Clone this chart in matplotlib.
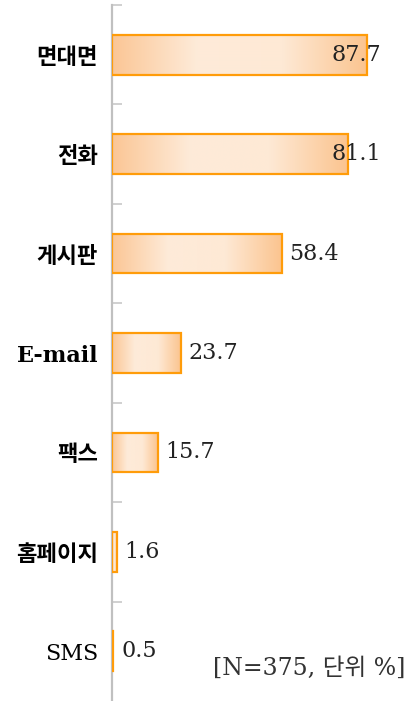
import matplotlib
matplotlib.use("Agg")
import matplotlib.pyplot as plt
import numpy as np
from matplotlib.colors import LinearSegmentedColormap

# data
categories = ["면대면", "전화", "게시판", "E-mail", "팩스", "홈페이지", "SMS"]
values = [87.7, 81.1, 58.4, 23.7, 15.7, 1.6, 0.5]
note = "[N=375, 단위 %]"

plt.rcParams['font.family'] = ['Noto Sans CJK KR', 'DejaVu Sans']
num_font = ['DejaVu Serif', 'Noto Sans CJK KR']

fig = plt.figure(figsize=(4.09, 7.01), dpi=100)
ax = fig.add_axes([112 / 409, 0.0, (381 - 112) / 409, 696 / 701])

XMAX = 92.5
y = np.arange(len(categories))
bars = ax.barh(y, values, height=0.4, color='none', edgecolor='#FF9C0A',
               linewidth=1.6, zorder=3)

# horizontal gradient: darker edges, light centre
cmap = LinearSegmentedColormap.from_list(
    'orange_grad', ['#FBC695', '#FEEBD9', '#FEE9D5', '#FBC48F'])
grad = np.linspace(0, 1, 256).reshape(1, -1)
for bar in bars:
    x0, y0 = bar.get_x(), bar.get_y()
    w, h = bar.get_width(), bar.get_height()
    im = ax.imshow(grad, cmap=cmap, aspect='auto', zorder=2,
                   extent=[x0, x0 + w, y0 + h, y0], interpolation='bicubic')
    im.set_clip_path(bar)

# value labels (clamped inside plot area like the original)
for yi, v in zip(y, values):
    if v + 2 + 18 > XMAX:
        ax.text(XMAX, yi, f"{v:.1f}", ha='right', va='center', fontsize=16,
                family=num_font, color='#222222', zorder=4)
    else:
        ax.text(v + 2.6, yi, f"{v:.1f}", ha='left', va='center', fontsize=16,
                family=num_font, color='#222222', zorder=4)

ax.set_xlim(0, XMAX)
ax.set_ylim(len(categories) - 0.5, -0.5)

ax.set_yticks(y)
ax.set_yticklabels(categories)
for lbl in ax.get_yticklabels():
    if lbl.get_text().isascii():
        lbl.set_fontfamily(num_font)
        lbl.set_fontsize(16)
        lbl.set_fontweight('bold' if lbl.get_text() == "E-mail" else 'normal')
    else:
        lbl.set_fontsize(16)
        lbl.set_fontweight('bold')
ax.set_yticks(np.arange(len(categories)) - 0.5, minor=True)
ax.tick_params(axis='y', which='major', length=0, pad=10)
ax.tick_params(axis='y', which='minor', direction='in', length=7,
               color='#C8C8C8', width=1.2)
ax.set_xticks([])

for s in ['top', 'right', 'bottom']:
    ax.spines[s].set_visible(False)
ax.spines['left'].set_color('#C0C0C0')
ax.spines['left'].set_linewidth(1.6)

fig.text(405 / 409, 1 - 668 / 701, note, ha='right', va='center', fontsize=17,
         family=num_font, color='#333333')

fig.savefig("out.png", dpi=100)
